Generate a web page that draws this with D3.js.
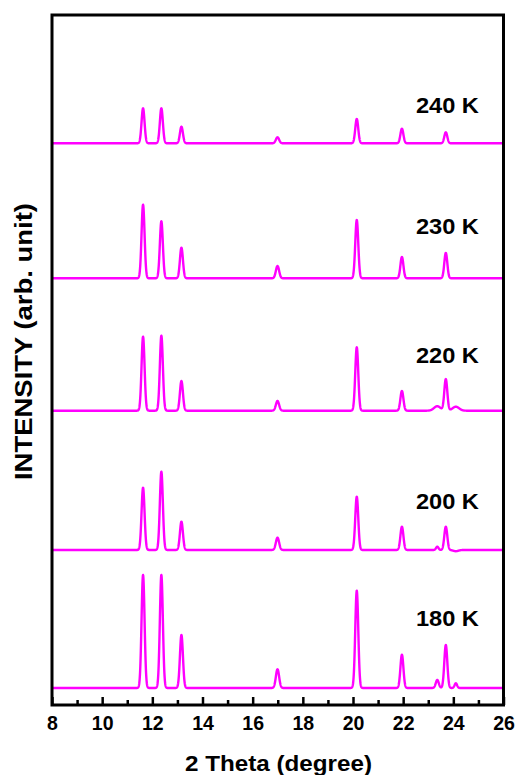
<!DOCTYPE html>
<html>
<head>
<meta charset="utf-8">
<script src="https://cdn.jsdelivr.net/npm/d3@7"></script>
<style>
  html, body { margin: 0; padding: 0; background: #fff; }
  svg { display: block; }
  text { font-family: "Liberation Sans", Arial, sans-serif; font-weight: bold; fill: #000; }
</style>
</head>
<body>
<svg id="chart" width="516" height="775"></svg>
<script>
// ---- data ----
const temperatures = ["180 K", "200 K", "220 K", "230 K", "240 K"];
const peakPositions = [11.63, 12.36, 13.16, 16.99, 20.15, 21.95, 23.36, 23.70, 24.10];
const heights180 = [113, 113, 53, 18.7, 97.3, 33.3, 8, 43, 4.7];
const heights200 = [62.3, 78.3, 28.3, 12.3, 53.3, 23.3, 3.3, 23.3, -1.2];
const heights220 = [74, 75, 29.7, 9.7, 63.4, 19.7, 4.5, 31.4, 4];
const heights230 = [73.6, 57, 30.6, 12.3, 58.3, 21.3, 0, 25.3, 0];
const heights240 = [35, 35, 16.6, 6, 24.3, 14.6, 0, 11, 0];
const widths180 = [0.06, 0.06, 0.06, 0.065, 0.06, 0.06, 0.06, 0.06, 0.05];
const widths200 = [0.06, 0.06, 0.06, 0.065, 0.06, 0.06, 0.05, 0.06, 0.1];
const widths220 = [0.06, 0.06, 0.06, 0.065, 0.06, 0.06, 0.13, 0.06, 0.13];
const widths230 = [0.06, 0.06, 0.06, 0.065, 0.06, 0.06, 0.06, 0.06, 0.06];
const widths240 = [0.06, 0.06, 0.06, 0.065, 0.06, 0.06, 0.06, 0.06, 0.06];
const seriesOffsets = [17, 155, 294.3, 426.7, 561.7];      // stacking offsets (arb. unit)
const labelLevels = [62.3, 41, 48, 44, 30.6];               // label height above each baseline
const xTicks = [8, 10, 12, 14, 16, 18, 20, 22, 24, 26];
const xMinorTicks = [9, 11, 13, 15, 17, 19, 21, 23, 25];

const allHeights = [heights180, heights200, heights220, heights230, heights240];
const allWidths = [widths180, widths200, widths220, widths230, widths240];

// ---- layout ----
const svg = d3.select("#chart");
const plotLeft = 52, plotRight = 503.5, plotTop = 15, plotBottom = 705;

const x = d3.scaleLinear().domain([8, 26]).range([plotLeft, plotRight]);
const y = d3.scaleLinear().domain([0, 690]).range([plotBottom, plotTop]);

// build each pattern from its peak table
const step = 0.005;
const grid = d3.range(8, 26 + step / 2, step);
const series = temperatures.map((t, i) => {
  const hs = allHeights[i], ws = allWidths[i];
  return grid.map(tt => {
    let v = 0;
    for (let k = 0; k < peakPositions.length; k++) {
      if (hs[k] === 0) continue;
      const d = (tt - peakPositions[k]) / ws[k];
      v += hs[k] * Math.exp(-0.5 * d * d);
    }
    return [tt, seriesOffsets[i] + v];
  });
});

const line = d3.line().x(d => x(d[0])).y(d => y(d[1]));

svg.append("g").selectAll("path")
  .data(series)
  .join("path")
  .attr("d", line)
  .attr("fill", "none")
  .attr("stroke", "#ff00ff")
  .attr("stroke-width", 2.4)
  .attr("stroke-linejoin", "round");

// series labels
svg.append("g").selectAll("text")
  .data(temperatures)
  .join("text")
  .attr("x", x(25.02))
  .attr("y", (d, i) => y(seriesOffsets[i] + labelLevels[i]))
  .attr("text-anchor", "end")
  .attr("textLength", 63)
  .attr("lengthAdjust", "spacingAndGlyphs")
  .style("font-size", "22px")
  .text(d => d);

// x axis with inward ticks
const xAxis = d3.axisBottom(x).tickValues(xTicks).tickFormat(d3.format("d"))
  .tickSizeInner(-8).tickSizeOuter(0).tickPadding(11);
const gx = svg.append("g").attr("transform", `translate(0,${plotBottom})`).call(xAxis);
gx.select(".domain").remove();
gx.selectAll(".tick line").attr("stroke", "#000").attr("stroke-width", 2.5);
gx.selectAll(".tick text").style("font-size", "19.5px").style("font-family", "'Liberation Sans', Arial, sans-serif").style("font-weight", "bold");

const xMinor = d3.axisBottom(x).tickValues(xMinorTicks).tickFormat("")
  .tickSizeInner(-5).tickSizeOuter(0);
const gm = svg.append("g").attr("transform", `translate(0,${plotBottom})`).call(xMinor);
gm.select(".domain").remove();
gm.selectAll(".tick line").attr("stroke", "#000").attr("stroke-width", 2.5);

// frame
svg.append("rect")
  .attr("x", plotLeft).attr("y", plotTop)
  .attr("width", plotRight - plotLeft).attr("height", plotBottom - plotTop)
  .attr("fill", "none").attr("stroke", "#000").attr("stroke-width", 3);

// axis titles
svg.append("text")
  .attr("x", 278.5)
  .attr("y", 771)
  .attr("text-anchor", "middle")
  .attr("textLength", 187)
  .attr("lengthAdjust", "spacingAndGlyphs")
  .style("font-size", "22px")
  .text("2 Theta (degree)");

svg.append("text")
  .attr("transform", `translate(31.5,341.5) rotate(-90)`)
  .attr("text-anchor", "middle")
  .attr("textLength", 277)
  .attr("lengthAdjust", "spacingAndGlyphs")
  .style("font-size", "24.5px")
  .text("INTENSITY (arb. unit)");
</script>
</body>
</html>
